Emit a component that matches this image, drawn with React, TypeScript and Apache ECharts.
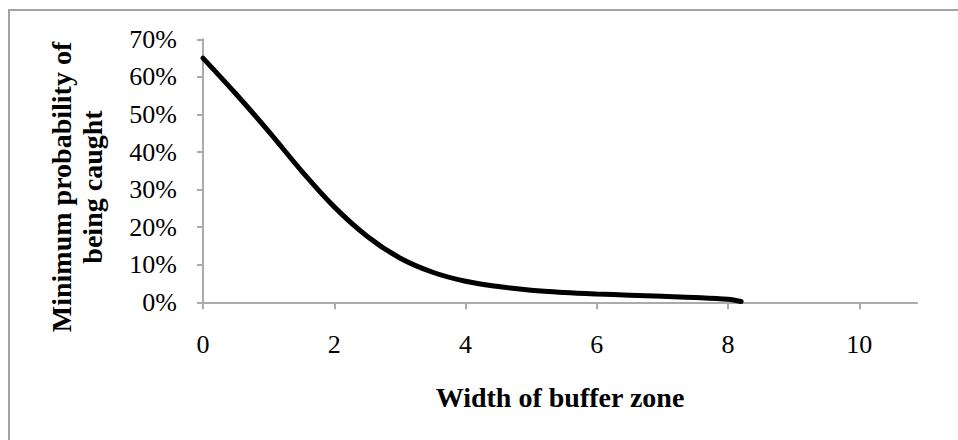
import React, { useEffect, useRef } from "react";
import * as echarts from "echarts";

const bufferWidths = [0, 0.5, 1, 1.5, 2, 2.5, 3, 3.5, 4, 4.5, 5, 5.5, 6, 6.5, 7, 7.5, 8, 8.2];
const caughtProb = [0.65, 0.555, 0.455, 0.35, 0.254, 0.176, 0.118, 0.08, 0.056, 0.042, 0.032, 0.026, 0.022, 0.019, 0.016, 0.013, 0.008, 0.002];
const xTickValues = [0, 2, 4, 6, 8, 10];
const xAxisTitle = "Width of buffer zone";
const yAxisTitle = "Minimum probability of\nbeing caught";

const FONT = "Liberation Serif";

export default function App() {
  const ref = useRef<HTMLDivElement>(null);
  useEffect(() => {
    if (!ref.current) return;
    const chart = echarts.init(ref.current, null, { renderer: "svg" });
    chart.setOption({
      animation: false,
      backgroundColor: "#ffffff",
      grid: { left: 203, right: 41, top: 39.3, bottom: 137.7, containLabel: false },
      graphic: [
        {
          type: "rect",
          shape: { x: 9, y: 10, width: 1200, height: 800 },
          style: { fill: "none", stroke: "#a3a3a3", lineWidth: 2 },
          silent: true,
        },
        {
          type: "text",
          x: 77,
          y: 187,
          rotation: Math.PI / 2,
          style: {
            text: yAxisTitle,
            font: `bold 28px "${FONT}"`,
            fill: "#000",
            align: "center",
            verticalAlign: "middle",
            lineHeight: 31,
          },
        },
      ],
      xAxis: {
        type: "value",
        min: 0,
        max: 10.88,
        interval: 2,
        name: xAxisTitle,
        nameLocation: "middle",
        nameGap: 81,
        nameTextStyle: { fontFamily: FONT, fontWeight: "bold", fontSize: 28, color: "#000" },
        axisLine: { show: true, lineStyle: { color: "#ababab", width: 2 } },
        axisTick: { show: true, length: 7, inside: false, customValues: xTickValues, lineStyle: { color: "#ababab", width: 2 } },
        axisLabel: { customValues: xTickValues, margin: 29, fontFamily: FONT, fontSize: 26, color: "#000" },
        splitLine: { show: false },
      },
      yAxis: {
        type: "value",
        min: 0,
        max: 0.7,
        interval: 0.1,
        axisLine: { show: true, lineStyle: { color: "#ababab", width: 2 } },
        axisTick: { show: true, length: 6, inside: false, lineStyle: { color: "#ababab", width: 2 } },
        axisLabel: {
          margin: 26,
          fontFamily: FONT,
          fontSize: 26,
          color: "#000",
          formatter: (v: number) => Math.round(v * 100) + "%",
        },
        splitLine: { show: false },
      },
      series: [
        {
          type: "line",
          data: bufferWidths.map((x, i) => [x, caughtProb[i]]),
          smooth: 0.35,
          showSymbol: false,
          lineStyle: { color: "#000", width: 5, cap: "round" },
        },
      ],
    });
    return () => chart.dispose();
  }, []);
  return (
    <div
      ref={ref}
      style={{ position: "fixed", left: 0, top: 0, width: 958, height: 440, background: "#fff" }}
    />
  );
}
